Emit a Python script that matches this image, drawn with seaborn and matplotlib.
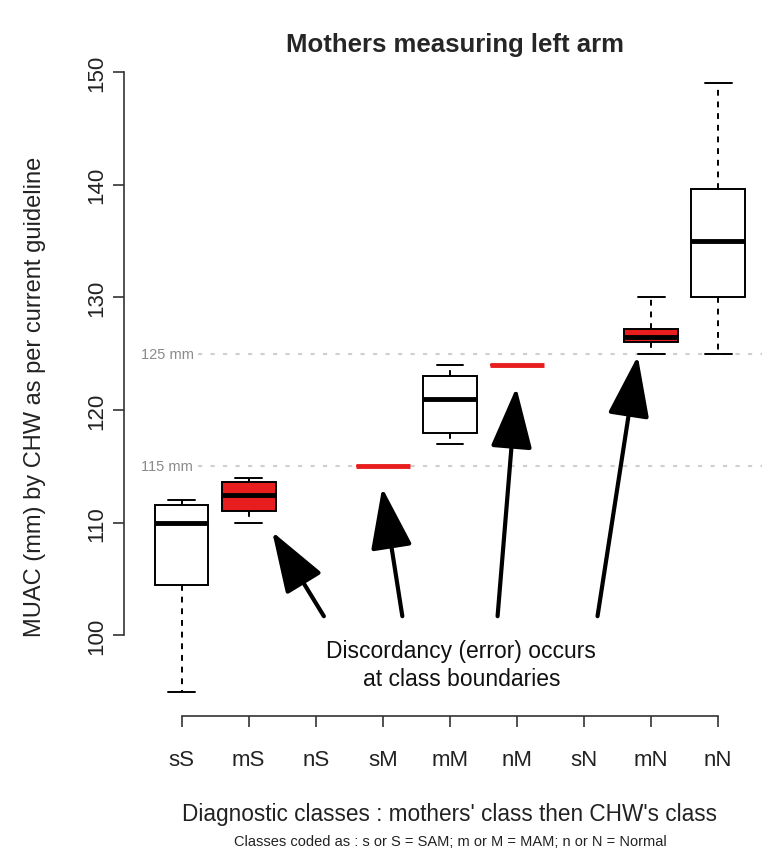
import matplotlib
matplotlib.use("Agg")
import matplotlib.pyplot as plt
from matplotlib.patches import ArrowStyle
import numpy as np
import pandas as pd
import seaborn as sns

# classes in plotting order (mother's class then CHW's class)
classes = ['sS', 'mS', 'nS', 'sM', 'mM', 'nM', 'sN', 'mN', 'nN']

# five-number summaries: min, Q1, median, Q3, max
sS_vals = [95, 104.5, 110, 111.6, 112]
mS_vals = [110, 111, 112.5, 113.6, 114]
sM_vals = [115, 115, 115, 115, 115]
mM_vals = [117, 118, 121, 123, 124]
nM_vals = [124, 124, 124, 124, 124]
mN_vals = [125, 126, 126.5, 127.2, 130]
nN_vals = [125, 130, 135, 139.6, 149]

group_vals = {'sS': sS_vals, 'mS': mS_vals, 'sM': sM_vals, 'mM': mM_vals,
              'nM': nM_vals, 'mN': mN_vals, 'nN': nN_vals}
discordant = ['mS', 'sM', 'nM', 'mN']
cutoffs = [115, 125]

RED = '#e81e1e'

rows = [(c, v) for c in classes if c in group_vals for v in group_vals[c]]
df = pd.DataFrame(rows, columns=['cls', 'muac'])
colors = {c: (RED if c in discordant else 'white') for c in group_vals}

sns.set_style('ticks')
plt.rcParams['font.family'] = ['Liberation Sans', 'DejaVu Sans']

fig = plt.figure(figsize=(7.62, 8.54), dpi=100)
ax = fig.add_axes([0.1627, 0.1604, 0.8556, 0.7693])

# reference cut-off lines
for c in cutoffs:
    ax.plot([0.25, 9], [c, c], color='#cfcfcf', lw=1.5, ls=(0, (2, 4)), zorder=0)
    ax.text(-0.6, c, f'{c} mm', color='#8a8a8a', fontsize=10.5, va='center', ha='left')

sns.boxplot(data=df, x='cls', y='muac', order=classes, hue='cls', palette=colors,
            legend=False, whis=(0, 100), width=0.8, saturation=1, linecolor='black',
            linewidth=1.4, showfliers=False,
            medianprops=dict(linewidth=3.5),
            whiskerprops=dict(linestyle=(0, (3, 3))), ax=ax)

# collapsed boxes (all values equal) show up as red lines
flat = [classes.index(c) for c in ['sM', 'nM']]
for ln in ax.lines:
    xd = np.asarray(ln.get_xdata(), dtype=float)
    if len(xd) and any(abs(xd.mean() - p) < 0.3 for p in flat):
        ln.set_color(RED)
        ln.set_linestyle('-')
for p in ax.patches:
    ext = p.get_path().get_extents()
    if any(abs((ext.x0 + ext.x1) / 2 - q) < 0.3 for q in flat):
        p.set_edgecolor(RED)

ax.set_xlim(-0.86, 8.86)
ax.set_ylim(92.84, 151.16)
ax.set_yticks([100, 110, 120, 130, 140, 150])
ax.set_xlabel('')
ax.set_ylabel('')
sns.despine(ax=ax)
ax.spines['left'].set_bounds(100, 150)
ax.spines['bottom'].set_bounds(0, 8)
for s in ['left', 'bottom']:
    ax.spines[s].set_linewidth(1.2)
    ax.spines[s].set_color('#333333')
ax.tick_params(axis='both', length=8, width=1.2, color='#333333', labelsize=16,
               labelcolor='#222222')
ax.tick_params(axis='y', pad=4)
ax.tick_params(axis='x', pad=16)
for lab in ax.get_yticklabels():
    lab.set_rotation(90)
    lab.set_va('center')

# arrows pointing at the discordant classes
arrows = [((2.12, 101.7), (1.35, 109.2)),
          ((3.29, 101.7), (2.99, 113.1)),
          ((4.71, 101.7), (4.99, 122.0)),
          ((6.20, 101.7), (6.80, 124.8))]
style = ArrowStyle('-|>', head_length=1.9, head_width=0.65)
for tail, tip in arrows:
    ax.annotate('', xy=tip, xytext=tail,
                arrowprops=dict(arrowstyle=style, mutation_scale=20, lw=3,
                                color='black', shrinkA=0, shrinkB=0))
ax.text(4.17, 97.4, 'Discordancy (error) occurs\nat class boundaries',
        ha='center', va='center', fontsize=16.5, linespacing=1.3, color='#111111')

fig.text(455 / 762, 1 - 45 / 854, 'Mothers measuring left arm', ha='center',
         va='center', fontsize=18.5, fontweight='bold')
fig.text(450 / 762, 1 - 815 / 854, "Diagnostic classes : mothers' class then CHW's class",
         ha='center', va='center', fontsize=16.3, color='#222222')
fig.text(450 / 762, 1 - 842 / 854,
         'Classes coded as : s or S = SAM; m or M = MAM; n or N = Normal',
         ha='center', va='center', fontsize=10.5, color='#222222')
fig.text(35 / 762, 1 - 397 / 854, 'MUAC (mm) by CHW as per current guideline',
         ha='center', va='center', rotation=90, fontsize=17, color='#222222')

fig.savefig('out.png', dpi=100)
